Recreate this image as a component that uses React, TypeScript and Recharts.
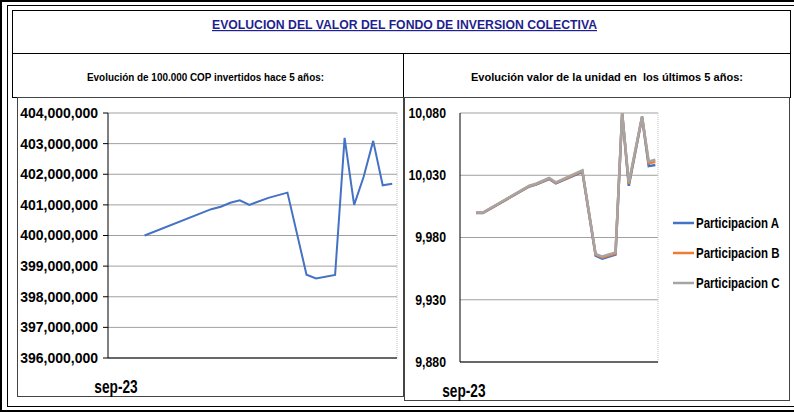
import React from 'react';
import {
  LineChart,
  Line,
  XAxis,
  YAxis,
  CartesianGrid,
  Legend,
  ReferenceLine
} from 'recharts';

// Left chart: value of 100.000 COP invested (index = month position)
const leftIdx = [0, 7, 8, 9, 10, 11, 13, 15, 17, 18, 20, 21, 22, 23, 24, 25, 26];
const leftValues = [
  400000000, 400860000, 400940000, 401070000, 401150000, 401000000, 401230000, 401400000,
  398720000, 398600000, 398710000, 403190000, 401000000, 401920000, 403090000, 401640000, 401690000
];
const leftTicks = [396000000, 397000000, 398000000, 399000000, 400000000, 401000000, 402000000, 403000000, 404000000];

// Right chart: unit value per share class
const rightIdx = [-1, 0, 7, 8, 10, 11, 13, 15, 17, 18, 20, 21, 22, 24, 25, 26];
const partA = [9999.6, 9999.6, 10021.0, 10022.5, 10027.0, 10023.5, 10028.2, 10032.8, 9965.5, 9963.0, 9966.3, 10079.5, 10021.5, 10076.5, 10037.3, 10038.2];
const partB = [9999.8, 9999.8, 10021.3, 10022.8, 10027.4, 10023.9, 10028.6, 10033.3, 9966.2, 9963.9, 9967.1, 10079.8, 10023.0, 10077.0, 10039.6, 10040.8];
const partC = [10000.0, 10000.0, 10021.6, 10023.2, 10027.8, 10024.3, 10029.1, 10033.9, 9966.8, 9964.7, 9968.0, 10080.0, 10024.2, 10077.4, 10041.1, 10042.4];
const rightTicks = [9880, 9930, 9980, 10030, 10080];

const seriesNames = ['Participacion A', 'Participacion B', 'Participacion C'];
const seriesColors = ['#4472C4', '#ED7D31', '#A5A5A5'];
const xLabel = 'sep-23';
const title = 'EVOLUCION DEL VALOR DEL FONDO DE INVERSION COLECTIVA';
const subLeft = 'Evolución de 100.000 COP invertidos hace 5 años:';
const subRight = 'Evolución valor de la unidad en  los últimos 5 años:';

const leftData = leftIdx.map((x, i) => ({ x, value: leftValues[i] }));
const rightData = rightIdx.map((x, i) => ({ x, a: partA[i], b: partB[i], c: partC[i] }));

const sans = '"Liberation Sans", Arial, sans-serif';
const fmt = (v: number) => v.toLocaleString('en-US');

const box = (left: number, top: number, width: number, height: number, border: string): React.CSSProperties => ({
  position: 'absolute',
  left,
  top,
  width,
  height,
  border,
  boxSizing: 'border-box'
});

// squeezed text, to look like the narrow office font of the original
const squeeze = (x: number, k = 0.82) => `translate(${x} 0) scale(${k} 1) translate(${-x} 0)`;

const SepTick = ({ x, y, dx }: any) => (
  <text
    x={x + (dx || 0)}
    y={y + 35}
    textAnchor="middle"
    fontFamily={sans}
    fontWeight="bold"
    fontSize={18}
    fill="#000"
    transform={squeeze(x + (dx || 0), 0.76)}
  >
    {xLabel}
  </text>
);

const NarrowYTick = ({ x, y, payload }: any) => (
  <text x={x} y={y} dy={5} textAnchor="end" fontFamily={sans} fontWeight="bold" fontSize={15} fill="#000" transform={squeeze(x)}>
    {fmt(payload.value)}
  </text>
);

const LegendBox = () => (
  <div>
    {seriesNames.map((name, i) => (
      <svg key={name} width={118} height={30} style={{ display: 'block' }}>
        <line x1={0} y1={15} x2={21} y2={15} stroke={seriesColors[i]} strokeWidth={2.5} />
        <text x={23} y={20} fontFamily={sans} fontWeight="bold" fontSize={14} fill="#000" transform={squeeze(23)}>
          {name}
        </text>
      </svg>
    ))}
  </div>
);

export default function App() {
  return (
    <div style={{ position: 'absolute', left: 0, top: 0, width: 794, height: 412, background: '#fff', overflow: 'hidden' }}>
      {/* outer frame */}
      <div style={box(0, 0, 800, 412, '2px solid #000')} />
      <div style={box(7, 5, 790, 402, '1.5px solid #000')} />

      {/* title and subtitle rows */}
      <div style={box(12, 10, 779, 44, '1px solid #000')} />
      <div style={box(12, 53, 392, 45, '1px solid #000')} />
      <div style={box(403, 53, 388, 45, '1px solid #000')} />
      <svg width={794} height={100} style={{ position: 'absolute', left: 0, top: 0 }}>
        <text
          x={212}
          y={29}
          fontFamily={sans}
          fontWeight="bold"
          fontSize={12}
          fill="#1f1f8f"
          textLength={385}
          lengthAdjust="spacingAndGlyphs"
          style={{ textDecoration: 'underline' }}
        >
          {title}
        </text>
        <text x={87} y={81} fontFamily={sans} fontWeight="bold" fontSize={11.5} fill="#000" textLength={237} lengthAdjust="spacingAndGlyphs">
          {subLeft}
        </text>
        <text
          x={471}
          y={81}
          fontFamily={sans}
          fontWeight="bold"
          fontSize={11.5}
          fill="#000"
          textLength={272}
          lengthAdjust="spacingAndGlyphs"
          style={{ whiteSpace: 'pre' }}
        >
          {subRight}
        </text>
      </svg>

      {/* left chart */}
      <div style={box(17, 97, 387, 300, '1px solid #444')}>
        <LineChart width={386} height={300} data={leftData} margin={{ top: 15, right: 7, left: -1, bottom: 0 }}>
          <CartesianGrid vertical={false} stroke="#a0a0a0" />
          <XAxis
            dataKey="x"
            type="number"
            domain={[-3.84, 26.5]}
            allowDataOverflow
            ticks={[-3]}
            height={40}
            tickSize={0}
            tickMargin={0}
            axisLine={{ stroke: '#000' }}
            tickLine={false}
            tick={<SepTick />}
          />
          <YAxis
            type="number"
            domain={[396000000, 404000000]}
            ticks={leftTicks}
            width={91}
            tickSize={5}
            tickMargin={5}
            axisLine={{ stroke: '#000' }}
            tickLine={{ stroke: '#000' }}
            tick={{ fill: '#000', fontFamily: sans, fontWeight: 'bold', fontSize: 14 }}
            tickFormatter={fmt}
          />
          <ReferenceLine x={26.5} stroke="#c0c0c0" strokeDasharray="1 1" />
          <Line type="linear" dataKey="value" stroke="#4472C4" strokeWidth={2} dot={false} isAnimationActive={false} />
        </LineChart>
      </div>

      {/* right chart */}
      <div style={box(404, 97, 386, 304, '1px solid #444')}>
        <LineChart width={386} height={304} data={rightData} margin={{ top: 15, right: 133, left: -1, bottom: 0 }}>
          <CartesianGrid vertical={false} stroke="#a0a0a0" />
          <XAxis
            dataKey="x"
            type="number"
            domain={[-3.44, 26.4]}
            allowDataOverflow
            ticks={[-3]}
            height={40}
            tickSize={0}
            tickMargin={0}
            axisLine={{ stroke: '#000' }}
            tickLine={false}
            tick={<SepTick dx={1} />}
          />
          <YAxis
            type="number"
            domain={[9880, 10080]}
            ticks={rightTicks}
            width={56}
            tickSize={0}
            tickMargin={14}
            axisLine={{ stroke: '#000' }}
            tickLine={false}
            tick={<NarrowYTick />}
          />
          <ReferenceLine x={26.4} stroke="#c0c0c0" strokeDasharray="1 1" />
          <Legend
            layout="vertical"
            align="center"
            verticalAlign="middle"
            wrapperStyle={{ left: 268, top: 110, width: 118 }}
            content={<LegendBox />}
          />
          <Line type="linear" dataKey="a" name={seriesNames[0]} stroke={seriesColors[0]} strokeWidth={2.5} dot={false} isAnimationActive={false} />
          <Line type="linear" dataKey="b" name={seriesNames[1]} stroke={seriesColors[1]} strokeWidth={2.5} dot={false} isAnimationActive={false} />
          <Line type="linear" dataKey="c" name={seriesNames[2]} stroke={seriesColors[2]} strokeWidth={2.5} dot={false} isAnimationActive={false} />
        </LineChart>
      </div>
    </div>
  );
}
